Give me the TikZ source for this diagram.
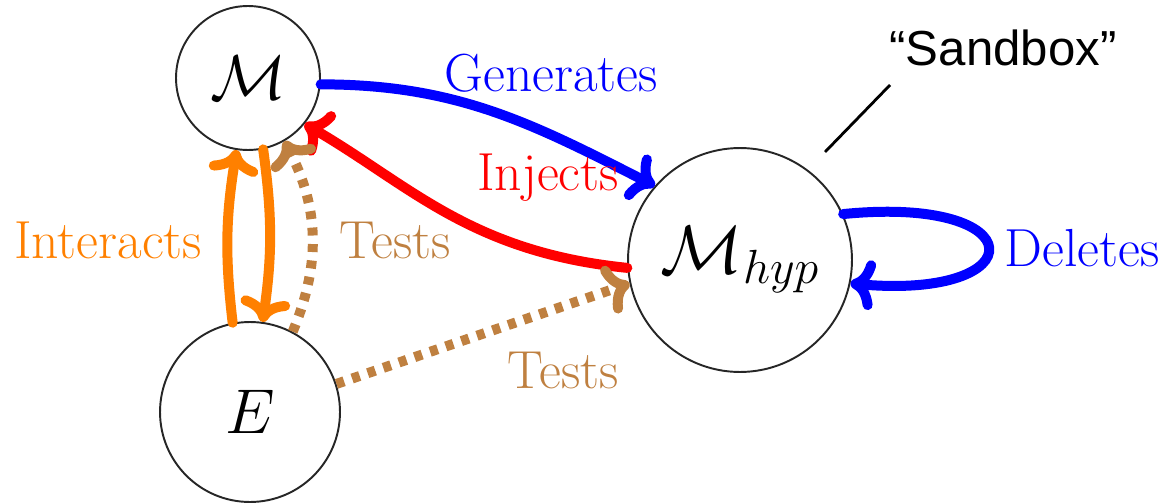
\documentclass[tikz,border=0pt]{standalone}
\usepackage{fix-cm}
\usepackage{fontspec}
\newfontfamily\labelsans{Liberation Sans}
\usetikzlibrary{arrows.meta}
\begin{document}
\begin{tikzpicture}[x=0.02cm,y=-0.02cm,
  state/.style={circle,draw=black!85,line width=1.1pt,inner sep=0pt,
    font=\fontsize{36}{40}\selectfont},
  conn/.style={line width=0.2cm,line cap=round,
    -{Computer Modern Rightarrow[length=0.48cm,width=1.0cm,line cap=round]}},
  dotconn/.style={conn,line cap=butt,dash pattern=on 0.16cm off 0.17cm},
  lbl/.style={font=\fontsize{30.5}{34}\selectfont,inner sep=0pt}]
\useasboundingbox (0,0) rectangle (1175,503);

% states
\node[state,minimum size=2.88cm] (M) at (248,78) {$\mathcal{M}$};
\node[state,minimum size=3.6cm] (E) at (250,412) {$E$};
\node[state,minimum size=4.48cm,font=\fontsize{39}{44}\selectfont] (H) at (740,260) {$\mathcal{M}_{hyp}$};

% model generates / injects
\draw[conn,blue] (M.-5) to[out=0,in=153] (H.139);
\draw[conn,red] (H.184) .. controls (470,252) and (410,185) .. (M.-39);

% interaction with the environment
\draw[conn,orange] (E.101) to[bend left=8] (M.-99);
\draw[conn,orange] (M.-78) to[bend left=8] (E.82);

% tests
\draw[dotconn,brown] (E.62) to[bend right=25] (M.-60);
\draw[dotconn,brown] (E.18) -- (H.192);

% self loop
\draw[conn,blue] (H.24) .. controls (1035,195) and (1035,300) .. (H.-12);

% labels
\node[lbl,blue] (lgen) at (551,73) {Generates};
\node[lbl,red] (linj) at (548,178) {Injects};
\node[lbl,orange] (lint) at (108,240) {Interacts};
\node[lbl,brown] (lt1) at (395,240) {Tests};
\node[lbl,brown] (lt2) at (563,370) {Tests};
\node[lbl,blue] (ldel) at (1082,248) {Deletes};

% sandbox callout
\node[inner sep=0pt,font=\labelsans\fontsize{28}{32}\selectfont] (sb) at (1003,48) {“Sandbox”};
\coordinate (sbend) at (825,152);
\coordinate (sbstart) at (890,85);
\draw[line width=1.6pt] (sbstart) -- (sbend);
\end{tikzpicture}
\end{document}
